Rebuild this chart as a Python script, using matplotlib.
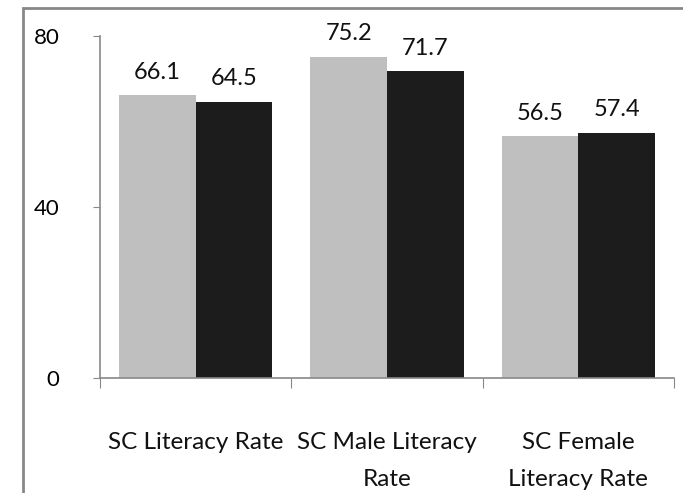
import matplotlib
matplotlib.use("Agg")
import matplotlib.pyplot as plt
from matplotlib.patches import Rectangle
import numpy as np

categories = ["SC Literacy Rate", "SC Male Literacy\nRate", "SC Female\nLiteracy Rate"]
series_a = [66.1, 75.2, 56.5]
series_b = [64.5, 71.7, 57.4]
yticks = [0, 40, 80]

plt.rcParams['font.family'] = ['Lato', 'DejaVu Sans']

fig = plt.figure(figsize=(6.83, 4.93), dpi=100)
ax = fig.add_axes([100/683, 1-378/493, 574/683, 342/493])

x = np.arange(len(categories))
w = 0.4
ba = ax.bar(x - w/2, series_a, w, color="#bfbfbf")
bb = ax.bar(x + w/2, series_b, w, color="#1c1c1c")
for bars, vals in ((ba, series_a), (bb, series_b)):
    for r, v in zip(bars, vals):
        ax.text(r.get_x() + r.get_width()/2, v + 3, f"{v:.1f}", ha="center",
                va="bottom", fontsize=17, color="#111111")

ax.set_xlim(-0.5, 2.5)
ax.set_ylim(0, 80)
ax.set_yticks(yticks)
ax.set_yticklabels([str(t) for t in yticks], fontsize=16)
ax.set_xticks([-0.5, 0.5, 1.5, 2.5])
ax.set_xticklabels([])
ax.set_xticks(x, minor=True)
ax.set_xticklabels(categories, minor=True, fontsize=17.5, linespacing=1.95,
                   color="#111111")
ax.tick_params(axis="x", which="minor", length=0, pad=39)
ax.tick_params(axis="x", which="major", length=7, color="#888888", direction="out")
ax.tick_params(axis="y", length=5, color="#888888", direction="out", pad=24)
for s in ("top", "right"):
    ax.spines[s].set_visible(False)
for s in ("left", "bottom"):
    ax.spines[s].set_color("#888888")
    ax.spines[s].set_linewidth(1.2)

fig.patches.append(Rectangle((23/683, -0.1), 1.2, 1 - 8/493 + 0.1,
                             transform=fig.transFigure, fill=False,
                             edgecolor="#888888", linewidth=2))
fig.savefig("out.png", dpi=100)
